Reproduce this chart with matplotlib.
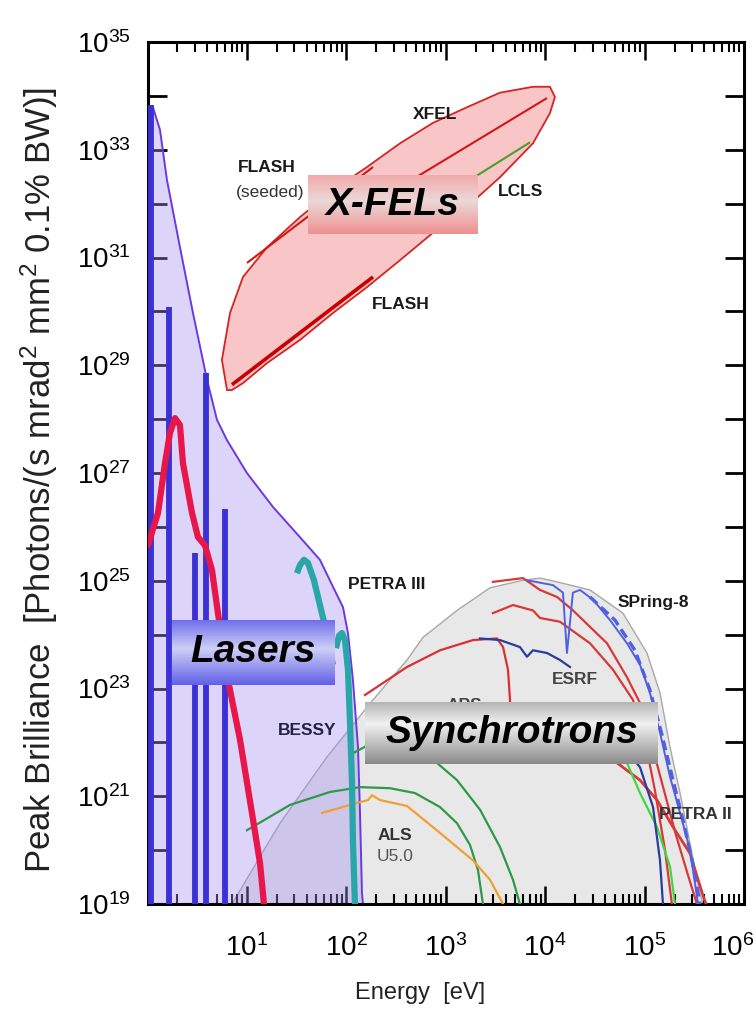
import numpy as np
import matplotlib
matplotlib.use('Agg')
import matplotlib.pyplot as plt
from matplotlib.colors import to_rgb
from matplotlib.ticker import FixedLocator, FuncFormatter, NullFormatter
from matplotlib.transforms import ScaledTranslation

plt.rcParams['font.family'] = ['Liberation Sans', 'DejaVu Sans']
plt.rcParams['mathtext.default'] = 'regular'

# ---------------- data (log10 energy [eV], log10 peak brilliance) ----------------
# Laser envelope (purple region)
laser_env_logE = [0.0, 0.0, 0.054, 0.125, 0.195, 0.326, 0.457, 0.598, 0.698, 0.799, 1.0, 1.262,
                  1.533, 1.734, 1.865, 1.966, 2.016, 2.066, 2.117, 2.137, 2.157, 2.167]
laser_env_logB = [19.0, 33.68, 33.79, 33.37, 32.44, 31.19, 29.97, 28.73, 27.99, 27.61, 27.00, 26.37,
                  25.81, 25.39, 24.89, 24.51, 24.03, 23.16, 21.91, 20.69, 19.20, 19.0]

# Laser lines (vertical bars)
laser_bar_logE = [0.034, 0.215, 0.477, 0.588, 0.779]
laser_bar_logB = [33.83, 30.08, 25.52, 28.86, 26.33]

# Red laser curve
laser_red_logE = [0.004, 0.105, 0.175, 0.225, 0.276, 0.326, 0.356, 0.447, 0.507, 0.577, 0.648,
                  0.708, 0.809, 0.930, 1.050, 1.131, 1.171]
laser_red_logB = [25.66, 26.26, 27.18, 27.74, 28.02, 27.89, 27.18, 26.26, 25.81, 25.66, 25.20,
                  24.40, 23.16, 22.05, 20.69, 19.76, 19.0]

# BESSY (teal) curves
bessy1_logE = [1.503, 1.533, 1.573, 1.614, 1.674, 1.734, 1.794, 1.865]
bessy1_logB = [25.14, 25.29, 25.39, 25.33, 25.01, 24.55, 24.09, 23.44]
bessy2_logE = [1.895, 1.926, 1.956, 1.986, 2.016, 2.036, 2.056, 2.066, 2.086]
bessy2_logB = [23.75, 23.98, 24.03, 23.90, 23.35, 22.41, 21.30, 20.19, 19.0]

# X-FEL region outline
xfel_env_logE = [0.799, 0.748, 0.829, 0.960, 1.201, 1.533, 1.865, 2.207, 2.539, 2.871, 3.213,
                 3.545, 3.877, 4.048, 4.098, 4.048, 3.877, 3.545, 3.213, 2.871, 2.539, 2.207,
                 1.865, 1.533, 1.201, 0.960, 0.849]
xfel_env_logB = [28.54, 29.10, 29.97, 30.64, 31.19, 31.75, 32.25, 32.68, 33.12, 33.50, 33.79,
                 34.06, 34.17, 34.17, 33.98, 33.68, 33.12, 32.49, 31.94, 31.46, 30.95, 30.45,
                 29.97, 29.47, 29.04, 28.67, 28.54]

flash_seeded_logE = [1.0, 2.268]
flash_seeded_logB = [30.90, 32.68]
xfel_logE = [2.45, 4.018]
xfel_logB = [32.21, 33.96]
lcls_logE = [3.2, 3.848]
lcls_logB = [32.39, 33.14]
flash_logE = [0.849, 2.268]
flash_logB = [28.64, 30.64]

# Synchrotron envelope (grey region)
sync_env_logE = [0.849, 1.332, 1.805, 2.268, 2.610, 2.771, 3.113, 3.445, 3.777, 3.950, 4.119,
                 4.450, 4.782, 5.024, 5.155, 5.256, 5.357, 5.477, 5.557, 5.587]
sync_env_logB = [19.0, 20.50, 21.73, 22.79, 23.53, 23.95, 24.45, 24.87, 25.01, 25.05, 24.98,
                 24.83, 24.40, 23.66, 22.92, 21.91, 21.06, 19.94, 19.20, 19.0]

# Synchrotron curves
green1_logE = [1.0, 1.433, 1.835, 2.137, 2.439, 2.690, 2.942, 3.113, 3.243, 3.324, 3.374]
green1_logB = [20.37, 20.84, 21.08, 21.17, 21.15, 21.06, 20.80, 20.50, 20.10, 19.63, 19.0]
green2_logE = [2.066, 2.300, 2.539, 2.911, 3.113, 3.345, 3.545, 3.676, 3.746]
green2_logB = [21.80, 22.03, 22.14, 21.62, 21.30, 20.75, 20.06, 19.45, 19.0]
als_logE = [1.755, 2.036, 2.217, 2.258, 2.338, 2.610, 2.942, 3.274, 3.445, 3.576]
als_logB = [20.69, 20.84, 20.93, 21.02, 20.93, 20.82, 20.32, 19.81, 19.45, 19.0]
aps_logE = [2.187, 2.610, 2.942, 3.274, 3.515, 3.576, 3.626, 3.646, 3.666]
aps_logB = [22.88, 23.40, 23.71, 23.90, 23.93, 23.77, 23.35, 22.79, 22.05]
redb_logE = [3.474, 3.777, 3.948, 4.119, 4.280, 4.622, 4.823, 4.954, 5.074, 5.195, 5.316, 5.436, 5.527]
redb_logB = [24.98, 25.05, 24.83, 24.70, 24.45, 23.84, 23.21, 22.73, 21.95, 21.11, 20.28, 19.54, 19.0]
redc_logE = [3.474, 3.676, 3.877, 3.948, 4.149, 4.451, 4.682, 4.883, 5.003, 5.104, 5.205, 5.275]
redc_logB = [24.40, 24.55, 24.45, 24.31, 24.24, 23.84, 23.35, 22.79, 22.05, 21.11, 20.01, 19.0]
petra2_logE = [4.401, 4.723, 4.954, 5.125, 5.286, 5.457, 5.587, 5.618]
petra2_logB = [21.95, 21.62, 21.30, 20.93, 20.43, 19.94, 19.16, 19.0]
lgreen_logE = [4.551, 4.823, 4.954, 5.125, 5.256, 5.306]
lgreen_logB = [22.41, 21.62, 21.06, 20.43, 19.69, 19.0]
dblue_logE = [4.652, 4.954, 5.085, 5.155, 5.185]
dblue_logB = [22.23, 21.54, 20.80, 19.81, 19.0]
esrf_logE = [3.344, 3.545, 3.746, 3.817, 3.877, 4.018, 4.149, 4.250]
esrf_logB = [23.93, 23.90, 23.77, 23.59, 23.71, 23.66, 23.53, 23.40]
spring8_logE = [3.817, 4.078, 4.179, 4.219, 4.279, 4.350, 4.481, 4.652, 4.823, 4.954, 5.054,
                5.155, 5.256, 5.357, 5.457, 5.538]
spring8_logB = [25.01, 24.92, 24.78, 23.66, 24.78, 24.83, 24.65, 24.27, 23.84, 23.44, 22.92,
                22.18, 21.36, 20.69, 20.01, 19.0]
spring8b_logE = [4.451, 4.702, 4.903, 5.054, 5.175, 5.286, 5.386, 5.477, 5.557]
spring8b_logB = [24.70, 24.27, 23.71, 22.97, 22.14, 21.30, 20.56, 19.81, 19.0]

x_tick_exps = [0, 1, 2, 3, 4, 5, 6]
x_label_exps = [1, 2, 3, 4, 5]
y_tick_exps = list(range(19, 36))
y_label_exps = list(range(19, 36, 2))


def P(le, lb):
    return 10.0 ** np.asarray(le, float), 10.0 ** np.asarray(lb, float)


def sci(e):
    return r'$\mathregular{10^{%d}}$' % e


# ---------------- figure ----------------
fig = plt.figure(figsize=(7.56, 10.16), dpi=100)
ax = fig.add_axes([0.1952, 0.1102, 0.7889, 0.8484])
ax.set_xscale('log')
ax.set_yscale('log')

# synchrotron envelope
x, y = P(sync_env_logE, sync_env_logB)
ax.fill(x, y, facecolor='#e8e8e8', edgecolor='#a8a8a8', lw=1.0, zorder=1)

# laser envelope
x, y = P(laser_env_logE, laser_env_logB)
ax.fill(x, y, facecolor='#a68ef2', alpha=0.38, edgecolor='none', zorder=2)
ax.plot(x[1:], y[1:], color='#6a3ae0', lw=1.4, zorder=2.1)

# X-FEL envelope
x, y = P(xfel_env_logE, xfel_env_logB)
ax.fill(x, y, facecolor='#f8c6c6', edgecolor='#d42424', lw=1.3, zorder=2)
for le, lb, c, w in [(flash_seeded_logE, flash_seeded_logB, '#d01818', 1.5),
                     (xfel_logE, xfel_logB, '#d01818', 1.5),
                     (lcls_logE, lcls_logB, '#4aa02a', 1.5),
                     (flash_logE, flash_logB, '#c80000', 2.6)]:
    x, y = P(le, lb)
    ax.plot(x, y, color=c, lw=w, zorder=3, solid_capstyle='butt')

# laser bars
bx, by = P(laser_bar_logE, laser_bar_logB)
ax.vlines(bx, 1e19, by, colors='#3a30d4', lw=4.2, zorder=3)

# red laser curve
x, y = P(laser_red_logE, laser_red_logB)
ax.plot(x, y, color='#e8174a', lw=4.5, zorder=3.2, solid_capstyle='round')

# BESSY curves
for le, lb in [(bessy1_logE, bessy1_logB), (bessy2_logE, bessy2_logB)]:
    x, y = P(le, lb)
    ax.plot(x, y, color='#28a6a8', lw=4.5, zorder=3.2, solid_capstyle='butt')

# synchrotron curves
curves = [(green1_logE, green1_logB, '#2e9a46', 1.6, '-'),
          (green2_logE, green2_logB, '#2e9a46', 1.6, '-'),
          (als_logE, als_logB, '#f0a030', 1.6, '-'),
          (aps_logE, aps_logB, '#d83030', 1.6, '-'),
          (redb_logE, redb_logB, '#d83838', 1.6, '-'),
          (redc_logE, redc_logB, '#d83838', 1.6, '-'),
          (petra2_logE, petra2_logB, '#d83838', 2.0, '-'),
          (lgreen_logE, lgreen_logB, '#40d840', 1.6, '-'),
          (dblue_logE, dblue_logB, '#2a3c9c', 1.6, '-'),
          (esrf_logE, esrf_logB, '#2a3c9c', 1.6, '-'),
          (spring8_logE, spring8_logB, '#5060e0', 1.4, '-'),
          (spring8b_logE, spring8b_logB, '#5060e0', 2.4, (0, (3, 1.5)))]
for le, lb, c, w, ls in curves:
    x, y = P(le, lb)
    ax.plot(x, y, color=c, lw=w, ls=ls, zorder=3)

ax.set_xlim(1, 1e6)
ax.set_ylim(1e19, 1e35)

# ---------------- ticks ----------------
XPAD = 22
ax.xaxis.set_major_locator(FixedLocator([10.0 ** e for e in x_tick_exps]))
minors = [m * 10.0 ** e for e in x_tick_exps[:-1] for m in range(2, 10)]
ax.xaxis.set_minor_locator(FixedLocator(minors))
ax.xaxis.set_minor_formatter(NullFormatter())
ax.xaxis.set_major_formatter(FuncFormatter(
    lambda v, p: sci(round(np.log10(v))) if round(np.log10(v)) in x_label_exps else ''))
ax.yaxis.set_major_locator(FixedLocator([10.0 ** e for e in y_tick_exps]))
ax.yaxis.set_minor_locator(FixedLocator([]))
ax.yaxis.set_major_formatter(FuncFormatter(
    lambda v, p: sci(round(np.log10(v))) if round(np.log10(v)) in y_label_exps else ''))

ax.tick_params(which='both', direction='in', top=True, right=True, colors='black')
ax.tick_params(axis='x', which='major', length=13, width=1.8, labelsize=20, pad=XPAD)
ax.tick_params(axis='x', which='minor', length=7, width=1.5)
ax.tick_params(axis='y', which='major', length=14, width=2.0, labelsize=20, pad=12)
for s in ax.spines.values():
    s.set_linewidth(2.2)

# last x tick label (10^6), nudged left so it stays inside the figure
ax.text(1.0, 0.0, sci(6), fontsize=20, ha='center', va='top',
        transform=ax.transAxes + ScaledTranslation(-11 / 100, -XPAD / 72, fig.dpi_scale_trans))

fig.text(0.556, 0.0226, 'Energy  [eV]', ha='center', va='center', fontsize=17, color='#222')
fig.text(0.052, 0.528, r'Peak Brilliance  [Photons/(s mrad$^2$ mm$^2$ 0.1% BW)]',
         ha='center', va='center', rotation=90, fontsize=25, color='#222')

# ---------------- labels ----------------
lab = dict(transform=ax.transAxes, ha='center', va='center', fontsize=12.5,
           fontweight='bold', color='#1a1a1a', zorder=6)
ax.text(0.482, 0.916, 'XFEL', **lab)
ax.text(0.200, 0.854, 'FLASH', **lab)
ax.text(0.205, 0.826, '(seeded)', **{**lab, 'fontweight': 'normal', 'color': '#333'})
ax.text(0.626, 0.827, 'LCLS', **lab)
ax.text(0.424, 0.696, 'FLASH', **lab)
ax.text(0.401, 0.371, 'PETRA III', **lab)
ax.text(0.267, 0.201, 'BESSY', **{**lab, 'color': '#222244'})
ax.text(0.415, 0.080, 'ALS', **{**lab, 'color': '#333'})
ax.text(0.415, 0.055, 'U5.0', **{**lab, 'fontweight': 'normal', 'color': '#555'})
ax.text(0.848, 0.350, 'SPring-8', **lab)
ax.text(0.717, 0.260, 'ESRF', **{**lab, 'color': '#444'})
ax.text(0.918, 0.104, 'PETRA II', **{**lab, 'color': '#333'})
ax.text(0.532, 0.230, 'APS', **{**lab, 'color': '#444', 'zorder': 2.5})


def gradient_box(rect, stops, text):
    iax = ax.inset_axes(rect, zorder=5)
    n = 200
    pos = np.linspace(0, 1, n)
    sp = np.array([s[0] for s in stops])
    cols = np.array([to_rgb(s[1]) for s in stops])
    img = np.stack([np.interp(pos, sp, cols[:, k]) for k in range(3)], axis=-1)[:, None, :]
    iax.imshow(img, aspect='auto', extent=[0, 1, 0, 1], origin='upper')
    iax.set_axis_off()
    iax.text(0.5, 0.5, text, transform=iax.transAxes, ha='center', va='center',
             fontsize=28, fontweight='bold', fontstyle='italic', color='black')


gradient_box([0.269, 0.777, 0.285, 0.069],
             [(0, '#f2a8a8'), (0.45, '#ecd8d8'), (1, '#ef9090')], 'X-FELs')
gradient_box([0.041, 0.254, 0.273, 0.076],
             [(0, '#6c6cec'), (0.45, '#cfcff6'), (1, '#6060e8')], 'Lasers')
gradient_box([0.365, 0.163, 0.491, 0.071],
             [(0, '#b4b4b4'), (0.35, '#f2f2f2'), (1, '#8a8a8a')], 'Synchrotrons')

fig.savefig('out.png', dpi=100)
